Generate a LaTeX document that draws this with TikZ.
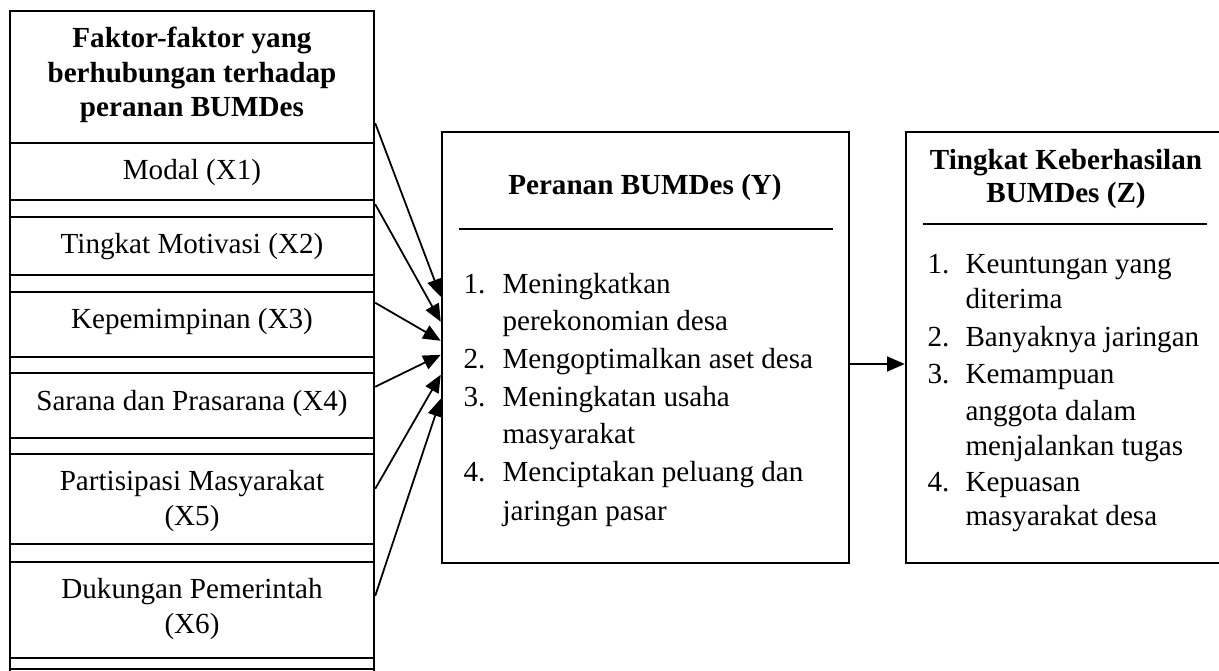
\documentclass[tikz,border=0pt]{standalone}
\usepackage{fontspec}
\setmainfont{Liberation Serif}
\usetikzlibrary{arrows.meta,fit,calc}
\begin{document}
\begin{tikzpicture}[x=0.364pt,y=-0.364pt,
  boxline/.style={draw,line width=0.9pt},
  frame/.style={boxline,inner sep=0pt},
  lbl/.style={inner sep=0pt,align=center,font=\fontsize{10.6pt}{12.6pt}\selectfont},
  bold/.style={inner sep=0pt,align=center,font=\fontsize{10.6pt}{12.6pt}\selectfont\bfseries},
  itm/.style={inner sep=0pt,anchor=base west,font=\fontsize{10.6pt}{13.8pt}\selectfont},
  arr/.style={-{Triangle[length=6.4pt,width=5.4pt]},line width=0.65pt}]
\useasboundingbox (0,0) rectangle (1219,671);
\clip (0,0) rectangle (1219,671);

% left column
\draw[boxline] (10,680) -- (10,11) -- (374,11) -- (374,680);
\node[frame,fit={(10,11)(374,143)}] (hdr) {};
\node[bold] (hdrT) at (192,75) {Faktor-faktor yang\\berhubungan terhadap\\peranan BUMDes};
\node[frame,fit={(10,143)(374,200)}] (x1) {};
\node[lbl] (x1T) at (192,172) {Modal (X1)};
\node[frame,fit={(10,217)(374,275)}] (x2) {};
\node[lbl] (x2T) at (192,247) {Tingkat Motivasi (X2)};
\node[frame,fit={(10,292)(374,357)}] (x3) {};
\node[lbl] (x3T) at (192,321) {Kepemimpinan (X3)};
\node[frame,fit={(10,373)(374,438)}] (x4) {};
\node[lbl] (x4T) at (192,403) {Sarana dan Prasarana (X4)};
\node[frame,fit={(10,454)(374,544)}] (x5) {};
\node[lbl] (x5T) at (192,501) {Partisipasi Masyarakat\\(X5)};
\node[frame,fit={(10,562)(374,658)}] (x6) {};
\node[lbl] (x6T) at (192,609) {Dukungan Pemerintah\\(X6)};
\node[frame,fit={(10,669)(374,690)}] (x7) {};

% middle box
\node[frame,fit={(442,132)(849,563)}] (mid) {};
\node[bold] (midT) at (645,187) {Peranan BUMDes (Y)};
\draw[boxline] (459,229) -- (833,229);
\node[itm] (m1n) at (463,293) {1.};
\node[itm] (m1a) at (502,293) {Meningkatkan};
\node[itm] (m1b) at (502,330) {perekonomian desa};
\node[itm] (m2n) at (463,368) {2.};
\node[itm] (m2a) at (502,368) {Mengoptimalkan aset desa};
\node[itm] (m3n) at (463,406) {3.};
\node[itm] (m3a) at (502,406) {Meningkatan usaha};
\node[itm] (m3b) at (502,443) {masyarakat};
\node[itm] (m4n) at (463,481) {4.};
\node[itm] (m4a) at (502,481) {Menciptakan peluang dan};
\node[itm] (m4b) at (502,520) {jaringan pasar};

% right box
\node[frame,fit={(906,132)(1230,563)}] (rgt) {};
\node[bold,font=\fontsize{10.6pt}{12pt}\selectfont\bfseries] (rgtT) at (1066,179) {Tingkat Keberhasilan\\BUMDes (Z)};
\draw[boxline] (923,224) -- (1207,224);
\node[itm] (r1n) at (927,273) {1.};
\node[itm] (r1a) at (965,273) {Keuntungan yang};
\node[itm] (r1b) at (965,308) {diterima};
\node[itm] (r2n) at (927,346) {2.};
\node[itm] (r2a) at (965,346) {Banyaknya jaringan};
\node[itm] (r3n) at (927,383) {3.};
\node[itm] (r3a) at (965,383) {Kemampuan};
\node[itm] (r3b) at (965,420) {anggota dalam};
\node[itm] (r3c) at (965,455) {menjalankan tugas};
\node[itm] (r4n) at (927,491) {4.};
\node[itm] (r4a) at (965,491) {Kepuasan};
\node[itm] (r4b) at (965,525) {masyarakat desa};

% connectors
\draw[arr] ($(hdr.south east)+(0,-21)$) -- ($(mid.north west)+(0,166)$);
\draw[arr] ($(x1.south east)+(0,3)$) -- ($(mid.north west)+(0,191)$);
\draw[arr] ($(x3.north east)+(0,12)$) -- ($(mid.north west)+(0,210)$);
\draw[arr] ($(x4.north east)+(0,15)$) -- ($(mid.north west)+(0,224)$);
\draw[arr] ($(x5.north east)+(0,36)$) -- ($(mid.north west)+(0,244)$);
\draw[arr] ($(x6.north east)+(0,35)$) -- ($(mid.north west)+(0,268)$);
\draw[arr] ($(mid.east)+(0,16.5)$) -- ($(rgt.west)+(0,16.5)$);
\end{tikzpicture}
\end{document}
